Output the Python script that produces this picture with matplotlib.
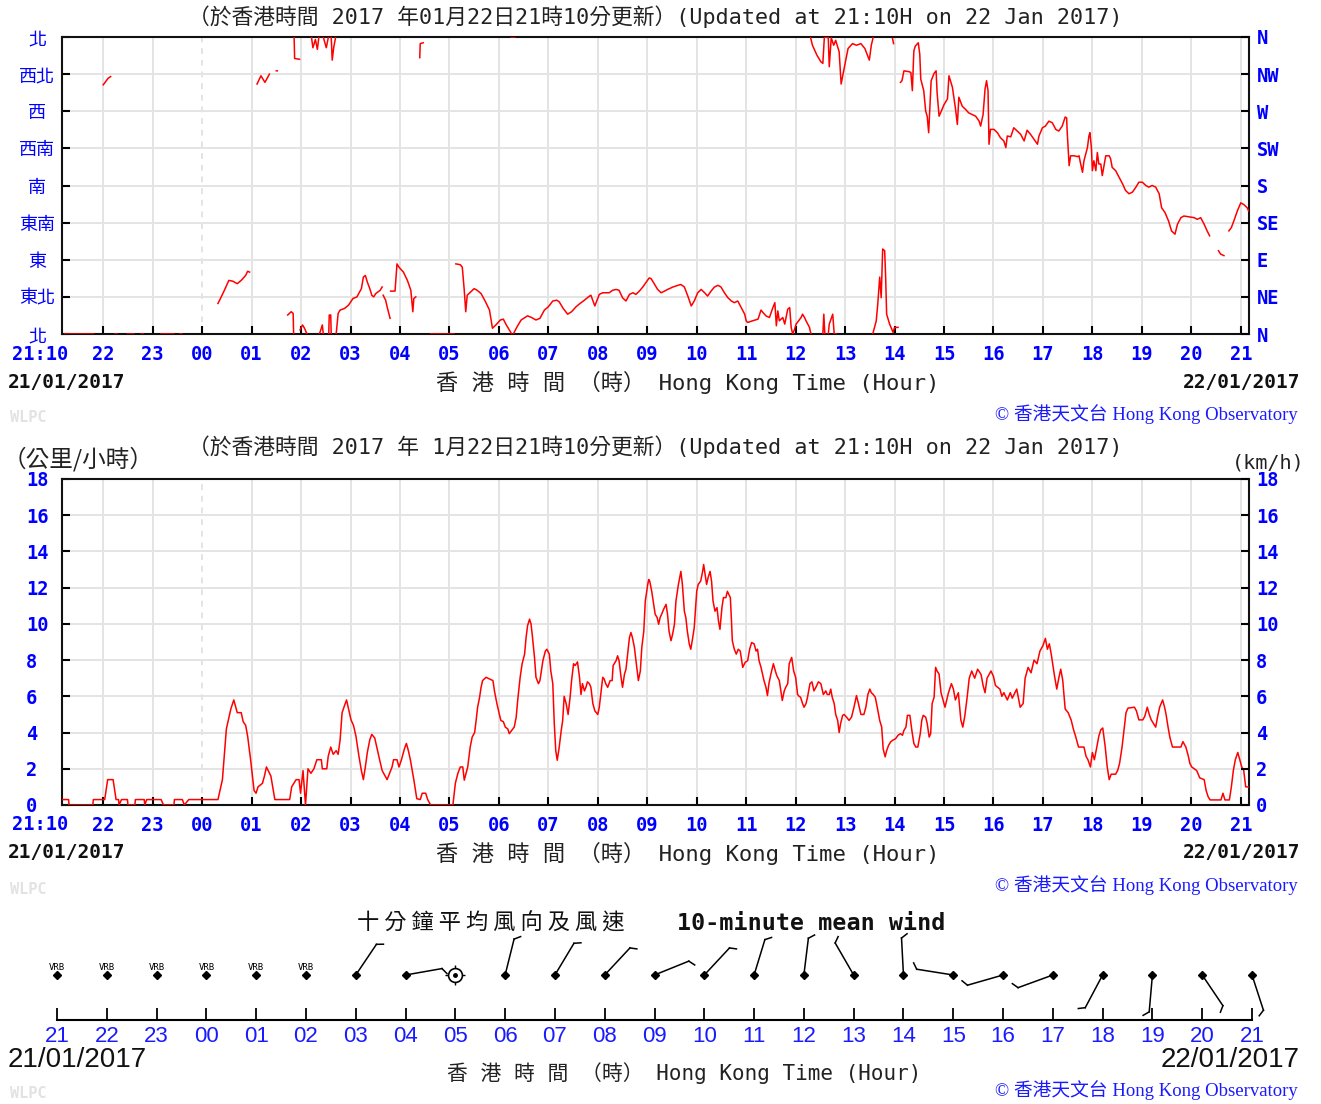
import numpy as np
import matplotlib
matplotlib.use("Agg")
import matplotlib.pyplot as plt

nan = np.nan

# ------------------------------------------------------------------ data
# time axis: hours after 21:00 on 21/01/2017 (22:00 -> 1, 00:00 -> 3, 21:00 next day -> 24)
T_START, T_END = 1 / 6, 24 + 1 / 6
hour_ticks = list(range(1, 25))
hour_labels = ["22", "23", "00", "01", "02", "03", "04", "05", "06", "07", "08", "09",
               "10", "11", "12", "13", "14", "15", "16", "17", "18", "19", "20", "21"]

dir_ticks = [0, 45, 90, 135, 180, 225, 270, 315, 360]
dir_labels_zh = ["北", "東北", "東", "東南", "南", "西南", "西", "西北", "北"]
dir_labels_en = ["N", "NE", "E", "SE", "S", "SW", "W", "NW", "N"]

speed_ticks = [0, 2, 4, 6, 8, 10, 12, 14, 16, 18]

# 1-minute wind direction (degrees), NaN = break in the trace
dir_time = [0.22, 0.81, nan, 1.00, 1.05, 1.10, 1.15, nan, 1.24, 1.28, nan, 1.49, 1.62, nan,
            1.77, 1.81, nan, 2.17, 2.43, nan, 2.55, 2.59, nan,
            3.32, 3.37, 3.45, 3.54, 3.62, 3.71, 3.79, 3.88, 3.92, 3.96, nan,
            4.11, 4.19, 4.27, 4.36, nan, 4.50, 4.52, nan,
            4.73, 4.80, 4.84, 4.85, nan, 4.86, 4.87, 4.97, nan, 4.98, 5.03, 5.07, 5.12, nan,
            5.21, 5.24, 5.29, 5.33, 5.36, nan, 5.37, 5.40, 5.43, 5.45, nan, 5.45, 5.51, 5.55, nan,
            5.56, 5.57, 5.60, 5.61, nan, 5.61, 5.63, 5.66, 5.70, nan,
            5.71, 5.75, 5.79, 5.88, 5.96, 6.05, 6.13, 6.22, 6.26, 6.30, 6.34, 6.39, 6.43, 6.47,
            6.51, 6.60, 6.64, nan, 6.66, 6.71, 6.74, 6.80, nan,
            6.81, 6.90, 6.94, 6.98, 7.07, 7.15, 7.22, 7.26, 7.28, 7.32, nan,
            7.40, 7.41, 7.47, nan, 7.62, 8.09, nan,
            8.13, 8.22, 8.26, 8.30, 8.33, 8.36, 8.43, 8.50, 8.56, 8.64, 8.73, 8.81, 8.87, 8.94,
            9.03, 9.09, 9.15, 9.21, 9.26, nan, 9.25, 9.32, nan,
            9.30, 9.37, 9.45, 9.58, 9.66, 9.75, 9.83, 9.92, 10.00, 10.09, 10.17, 10.22, 10.30,
            10.39, 10.47, 10.56, 10.64, 10.73, 10.81, 10.86, 10.94, 11.03, 11.10, 11.23, 11.30,
            11.37, 11.43, 11.50, 11.57, 11.64, 11.71, 11.77, 11.84, 11.91, 11.98, 12.04, 12.08,
            12.14, 12.21, 12.28, 12.35, 12.41, 12.52, 12.62, 12.68, 12.75, 12.82, 12.89, 12.95,
            13.02, 13.09, 13.16, 13.22, 13.29, 13.36, 13.43, 13.49, 13.56, 13.63, 13.70, 13.76,
            13.83, 13.90, 13.97, 14.00, 14.03, 14.13, 14.24, 14.30, 14.34, 14.40, 14.47, 14.54,
            14.58, 14.61, 14.64, 14.67, 14.74, 14.78, 14.84, 14.88, 14.91, 14.94, 14.98, 15.01,
            15.06, 15.11, 15.14, 15.18, 15.21, 15.28, 15.31, nan,
            15.30, 15.34, 15.43, 15.51, 15.55, 15.58, nan, 15.55, 15.57, 15.59, nan,
            15.60, 15.66, 15.68, 15.72, 15.77, 15.81, 15.88, 15.92, 15.98, 16.02, 16.06, 16.15,
            16.23, 16.32, 16.40, 16.49, 16.53, 16.57, nan,
            15.66, 15.68, 15.75, 15.78, 15.82, nan,
            16.56, 16.63, 16.66, 16.70, 16.73, 16.76, 16.80, 16.82, 16.84, 16.90, 16.97, 17.00,
            17.07, nan, 16.96, 16.98, nan,
            17.12, 17.15, 17.19, 17.29, 17.33, 17.36, 17.39, 17.42, 17.48, 17.51, 17.53, 17.59,
            17.63, 17.66, 17.69, 17.71, 17.74, 17.80, 17.84, 17.86, 17.90, 17.93, 18.00, 18.07,
            18.10, 18.17, 18.23, 18.27, 18.30, 18.37, 18.44, 18.50, 18.57, 18.64, 18.71, 18.74,
            18.79, 18.83, 18.86, 18.89, 18.91, 18.94, 19.01, 19.08, 19.14, 19.21, 19.25, 19.28,
            19.35, 19.41, 19.48, 19.55, 19.62, 19.68, 19.75, 19.82, 19.89, 19.92, 19.99, 20.05,
            20.12, 20.19, 20.26, 20.32, 20.39, 20.45, 20.48, 20.49, 20.53, 20.56, 20.63, 20.70,
            20.73, 20.76, 20.80, 20.83, 20.90, 20.93, 20.95, 20.98, 21.00, 21.03, 21.07, 21.10,
            21.13, 21.17, 21.20, 21.27, 21.34, 21.37, 21.40, 21.47, 21.54, 21.61, 21.67, 21.74,
            21.81, 21.88, 21.94, 22.01, 22.08, 22.14, 22.21, 22.28, 22.35, 22.40, 22.47, 22.54,
            22.60, 22.67, 22.72, 22.79, 22.85, 22.95, 23.06, 23.12, 23.19, 23.26, 23.32, 23.37, nan,
            23.55, 23.59, 23.66, nan,
            23.76, 23.81, 23.86, 23.93, 24.00, 24.06, 24.13, 24.16]
dir_deg = [0, 0, nan, 302, 306, 310, 312, nan, 0, 0, nan, 0, 0, nan,
           0, 0, nan, 0, 0, nan, 0, 0, nan,
           37, 43, 53, 65, 64, 61, 65, 71, 76, 75, nan,
           303, 313, 305, 315, nan, 319, 319, nan,
           23, 27, 25, 0, nan, 360, 334, 333, nan, 5, 11, 7, 0, nan,
           360, 347, 357, 345, 360, nan, 0, 5, 11, 0, nan, 360, 347, 359, nan,
           0, 23, 23, 0, nan, 360, 332, 347, 360, nan,
           0, 25, 29, 31, 35, 43, 45, 55, 69, 71, 63, 55, 47, 45,
           49, 53, 57, nan, 47, 41, 33, 19, nan,
           52, 52, 85, 81, 75, 65, 53, 27, 43, 45, nan,
           335, 352, 353, nan, 0, 0, nan,
           85, 84, 81, 53, 27, 47, 51, 55, 53, 49, 39, 29, 7, 11,
           17, 18, 11, 5, 0, nan, 360, 360, nan,
           1, 9, 17, 22, 20, 17, 19, 29, 33, 40, 41, 39, 31,
           24, 27, 33, 37, 41, 45, 47, 34, 48, 50, 50, 53,
           54, 53, 44, 40, 48, 50, 48, 52, 57, 63, 68, 67,
           61, 54, 50, 52, 54, 57, 59, 60, 57, 46, 34, 40,
           50, 54, 50, 46, 52, 57, 59, 57, 50, 44, 40, 38,
           40, 32, 24, 16, 14, 16, 18, 29, 26, 22, 20, 32,
           38, 10, 28, 16, 20, 12, 30, 32, 8, 0, 6, 12,
           16, 20, 24, 20, 16, 8, 0, nan,
           360, 350, 338, 330, 328, 359, nan, 0, 24, 0, nan,
           360, 359, 324, 359, 350, 356, 342, 303, 322, 334, 346, 352,
           350, 352, 346, 332, 350, 360, nan,
           0, 12, 24, 0, 0, nan,
           0, 16, 36, 69, 44, 103, 101, 69, 24, 12, 2, 8,
           8, nan, 358, 352, nan,
           305, 307, 319, 318, 317, 295, 343, 349, 353, 339, 309, 295,
           270, 264, 244, 270, 307, 316, 319, 293, 264, 268, 278, 285,
           313, 299, 274, 254, 287, 276, 272, 268, 266, 264, 258, 252,
           266, 297, 307, 295, 230, 248, 248, 244, 238, 234, 226, 240,
           239, 250, 246, 242, 234, 247, 242, 236, 230, 240, 250, 252,
           258, 256, 248, 246, 252, 263, 262, 246, 204, 216, 216, 215,
           216, 207, 196, 210, 226, 240, 244, 226, 198, 210, 198, 220,
           206, 206, 192, 216, 216, 212, 202, 198, 190, 182, 174, 170,
           172, 178, 184, 184, 180, 178, 180, 178, 170, 153, 147, 137,
           125, 121, 133, 141, 143, 142, 141, 139, 141, 133, 125, 119, nan,
           101, 97, 95, nan,
           125, 129, 137, 149, 159, 157, 153, 149]

# 1-minute mean wind speed (km/h)
spd_time = [0.17, 0.30, 0.31, 0.79, 0.80, 1.03, 1.09, 1.20, 1.26, 1.31, 1.32, 1.37, 1.49, 1.50,
            1.64, 1.65, 1.83, 1.84, 1.88, 2.17, 2.22, 2.43, 2.44, 2.60, 2.64, 2.73, 3.32, 3.41,
            3.49, 3.58, 3.64, 3.71, 3.79, 3.83, 3.88, 3.92, 3.98, 4.05, 4.09, 4.13, 4.22, 4.26,
            4.30, 4.39, 4.47, 4.77, 4.81, 4.90, 4.96, 4.99, 5.04, 5.09, 5.14, 5.20, 5.26, 5.32,
            5.41, 5.43, 5.52, 5.55, 5.60, 5.65, 5.71, 5.75, 5.79, 5.83, 5.88, 5.92, 5.96, 6.01,
            6.06, 6.11, 6.17, 6.22, 6.26, 6.30, 6.34, 6.39, 6.43, 6.49, 6.53, 6.58, 6.64, 6.70,
            6.74, 6.79, 6.84, 6.87, 6.94, 6.98, 7.03, 7.09, 7.13, 7.17, 7.21, 7.28, 7.34, 7.41,
            7.45, 7.52, 7.56, 7.62, 8.07, 8.12, 8.17, 8.22, 8.27, 8.30, 8.37, 8.42, 8.46, 8.51,
            8.54, 8.57, 8.61, 8.64, 8.67, 8.74, 8.88, 8.91, 8.96, 9.01, 9.04, 9.09, 9.13, 9.18,
            9.21, 9.31, 9.35, 9.38, 9.43, 9.47, 9.52, 9.55, 9.58, 9.62, 9.65, 9.68, 9.72, 9.75,
            9.80, 9.83, 9.89, 9.94, 9.97, 10.02, 10.05, 10.09, 10.12, 10.15, 10.18, 10.22, 10.26,
            10.29, 10.32, 10.36, 10.40, 10.44, 10.47, 10.51, 10.54, 10.59, 10.63, 10.66, 10.69,
            10.73, 10.76, 10.79, 10.83, 10.86, 10.90, 10.94, 11.00, 11.03, 11.06, 11.10, 11.13,
            11.16, 11.20, 11.25, 11.29, 11.31, 11.37, 11.40, 11.43, 11.47, 11.50, 11.54, 11.57,
            11.60, 11.64, 11.67, 11.70, 11.74, 11.78, 11.82, 11.86, 11.89, 11.93, 11.96, 12.01,
            12.03, 12.05, 12.09, 12.13, 12.16, 12.20, 12.23, 12.26, 12.29, 12.33, 12.38, 12.41,
            12.44, 12.48, 12.51, 12.55, 12.58, 12.63, 12.68, 12.71, 12.75, 12.78, 12.81, 12.85,
            12.88, 12.92, 12.95, 13.00, 13.03, 13.08, 13.12, 13.14, 13.17, 13.20, 13.23, 13.27,
            13.30, 13.33, 13.37, 13.41, 13.44, 13.47, 13.51, 13.54, 13.59, 13.62, 13.68, 13.70,
            13.72, 13.76, 13.80, 13.84, 13.88, 13.93, 13.98, 14.03, 14.07, 14.11, 14.16, 14.20,
            14.23, 14.26, 14.30, 14.33, 14.36, 14.40, 14.43, 14.46, 14.50, 14.55, 14.59, 14.62,
            14.67, 14.70, 14.73, 14.77, 14.80, 14.84, 14.87, 14.92, 14.96, 15.00, 15.04, 15.07,
            15.10, 15.14, 15.17, 15.21, 15.24, 15.29, 15.33, 15.37, 15.41, 15.46, 15.51, 15.56,
            15.61, 15.64, 15.68, 15.71, 15.74, 15.78, 15.81, 15.85, 15.88, 15.91, 15.95, 15.98,
            16.03, 16.08, 16.13, 16.18, 16.23, 16.27, 16.32, 16.38, 16.42, 16.46, 16.50, 16.53,
            16.57, 16.61, 16.65, 16.70, 16.74, 16.77, 16.81, 16.84, 16.88, 16.92, 16.96, 17.02,
            17.07, 17.12, 17.16, 17.19, 17.23, 17.26, 17.31, 17.35, 17.39, 17.43, 17.47, 17.52,
            17.55, 17.58, 17.63, 17.66, 17.70, 17.73, 17.76, 17.80, 17.83, 17.86, 17.90, 17.94,
            18.02, 18.09, 18.15, 18.19, 18.23, 18.29, 18.34, 18.38, 18.42, 18.47, 18.51, 18.56,
            18.62, 18.68, 18.75, 18.79, 18.83, 18.87, 18.95, 19.00, 19.04, 19.13, 19.17, 19.21,
            19.28, 19.34, 19.38, 19.47, 19.54, 19.60, 19.64, 19.70, 19.76, 19.82, 19.88, 19.94,
            20.00, 20.05, 20.09, 20.13, 20.17, 20.23, 20.28, 20.32, 20.36, 20.40, 20.45, 20.51,
            20.57, 20.62, 20.66, 20.72, 20.83, 20.87, 20.91, 20.96, 21.00, 21.04, 21.09, 21.13,
            21.17, 21.21, 21.26, 21.30, 21.34, 21.38, 21.47, 21.51, 21.55, 21.60, 21.64, 21.68,
            21.72, 21.85, 21.89, 21.94, 22.02, 22.06, 22.11, 22.15, 22.19, 22.28, 22.32, 22.36,
            22.42, 22.46, 22.49, 22.53, 22.57, 22.62, 22.79, 22.83, 22.89, 22.94, 22.97, 23.01,
            23.11, 23.17, 23.26, 23.30, 23.34, 23.38, 23.60, 23.64, 23.68, 23.77, 23.81, 23.85,
            23.89, 23.94, 23.98, 24.02, 24.06, 24.10, 24.16]
spd_kmh = [0.3, 0.3, 0, 0, 0.3, 0.3, 1.4, 1.4, 0.3, 0.3, 0, 0.3, 0.3, 0,
           0, 0.3, 0.3, 0, 0.3, 0.3, 0, 0, 0.3, 0.3, 0, 0.3, 0.3, 1.4,
           4.2, 5.3, 5.8, 5.1, 5.1, 4.6, 4.4, 3.8, 2.5, 0.8, 0.65, 1.0, 1.2, 1.6,
           2.1, 1.6, 0.3, 0.3, 1.0, 1.4, 1.4, 0.65, 1.9, 0, 2.0, 1.75, 2.0, 2.5,
           2.5, 2.0, 2.0, 2.7, 3.2, 2.8, 3.0, 2.8, 3.6, 5.1, 5.5, 5.8, 5.3, 4.7,
           4.4, 3.8, 2.7, 1.9, 1.4, 2.1, 2.9, 3.6, 3.9, 3.7, 3.2, 2.6, 1.9, 1.6,
           1.4, 1.75, 2.1, 2.5, 2.5, 2.1, 2.5, 3.1, 3.4, 3.0, 2.5, 1.4, 0.35, 0.3,
           0.65, 0.65, 0.3, 0, 0, 1.2, 1.74, 2.1, 2.1, 1.37, 2.1, 3.2, 3.75, 4.0,
           4.67, 5.4, 5.95, 6.5, 6.87, 7.05, 6.87, 6.3, 5.6, 5.0, 4.67, 4.6, 4.3, 4.2,
           3.94, 4.3, 4.85, 5.77, 7.05, 7.8, 8.33, 9.25, 9.9, 10.26, 10.0, 9.25, 8.15, 7.05,
           6.7, 6.87, 7.97, 8.5, 8.6, 8.33, 7.4, 6.7, 4.5, 3.0, 2.47, 3.2, 4.1,
           4.67, 6.0, 5.6, 5.0, 5.95, 6.87, 7.8, 7.7, 7.9, 7.05, 6.1, 6.7,
           6.3, 6.5, 6.8, 6.7, 6.5, 5.6, 5.2, 5.0, 5.4, 6.1, 7.05, 6.95,
           6.7, 6.5, 6.87, 6.87, 7.7, 7.97, 8.24, 7.97, 7.05, 6.5, 7.23, 7.5,
           8.24, 9.25, 9.52, 9.25, 8.7, 7.8, 6.87, 7.4, 8.7, 9.6, 11.26, 12.18,
           12.45, 12.36, 11.8, 11.08, 10.53, 10.35, 9.98, 10.35, 10.53, 10.8, 11.08, 10.53,
           9.6, 9.07, 9.4, 9.98, 11.26, 12.18, 12.9, 12.18, 10.7, 10.35, 9.6, 8.88,
           8.6, 9.25, 9.8, 11.8, 12.18, 12.36, 12.9, 13.28, 12.73, 12.18, 12.55, 12.9,
           12.36, 11.26, 10.7, 10.9, 10.16, 9.7, 10.9, 11.45, 11.45, 11.8, 11.45, 10.35,
           9.07, 8.6, 8.33, 8.6, 8.5, 7.6, 7.88, 7.97, 8.6, 8.97, 8.9, 8.5,
           8.6, 7.97, 7.6, 7.23, 6.87, 6.5, 6.04, 6.7, 7.23, 7.8, 7.4, 7.14,
           6.87, 6.3, 5.77, 6.3, 6.5, 6.7, 7.8, 8.15, 7.4, 7.05, 6.1, 6.0,
           5.95, 5.6, 5.4, 5.6, 5.95, 6.7, 6.8, 6.3, 6.5, 6.8, 6.7, 6.1,
           6.3, 6.1, 6.1, 6.4, 5.95, 5.6, 5.0, 4.67, 4.0, 4.5, 4.95, 5.0,
           4.85, 4.67, 4.85, 5.4, 6.04, 5.6, 5.0, 5.0, 5.4, 6.1, 6.4, 6.2,
           6.1, 5.95, 5.4, 4.67, 4.3, 3.1, 2.66, 3.0, 3.3, 3.48, 3.57, 3.66,
           3.85, 3.94, 3.85, 4.12, 4.3, 4.95, 4.95, 4.12, 3.4, 3.2, 3.2, 3.94,
           4.67, 4.95, 4.85, 4.5, 3.75, 3.94, 5.6, 5.95, 7.6, 7.4, 7.23, 6.2,
           5.4, 6.2, 6.7, 6.4, 5.8, 6.2, 4.7, 4.3, 4.9, 6.0, 7.0, 7.4,
           7.0, 7.5, 7.2, 6.6, 6.2, 7.0, 7.4, 7.1, 6.6, 6.4, 6.0, 6.2,
           5.8, 6.2, 5.9, 6.4, 5.4, 5.6, 7.0, 7.6, 7.3, 8.0, 7.8, 8.5,
           8.8, 9.2, 8.6, 8.9, 8.3, 7.2, 6.4, 7.0, 7.5, 6.9, 5.3, 5.1,
           4.7, 4.15, 3.8, 3.2, 3.2, 2.7, 2.5, 2.1, 2.9, 2.5, 3.2, 3.8,
           4.15, 4.25, 3.2, 2.1, 1.4, 1.7, 1.7, 1.9, 2.3, 3.2, 4.15, 5.1,
           5.35, 5.4, 5.2, 4.7, 4.7, 4.9, 5.4, 5.0, 4.7, 4.3, 4.9, 5.4,
           5.8, 5.4, 5.0, 4.3, 3.7, 3.2, 3.2, 3.5, 3.2, 2.7, 2.3, 2.1,
           1.9, 1.5, 1.4, 0.8, 0.46, 0.28, 0.28, 0.65, 0.28, 0.28, 1.0, 1.9,
           2.5, 2.9, 2.5, 2.1, 1.9, 1.0, 1.0]

# hourly 10-minute mean wind (direction wind blows from, degrees)
barb_labels = ["21", "22", "23", "00", "01", "02", "03", "04", "05", "06", "07", "08", "09",
               "10", "11", "12", "13", "14", "15", "16", "17", "18", "19", "20", "21"]
barb_kind = ["VRB"] * 6 + ["wind", "wind", "calm"] + ["wind"] * 16
barb_dir = [nan] * 6 + [34, 80, nan, 14, 31, 43, 68, 43, 17, 7, 330, 357, 279, 254, 250,
                        208, 185, 146, 162]

# ------------------------------------------------------------------ style
W, H = 1321, 1104
BLUE = "#0000ff"
BLUE2 = "#1a1aff"
RED = "#ff0000"
GRID = "#e4e4e4"
CJK = "Noto Sans CJK TC"
MONO = "DejaVu Sans Mono"
SANS = "Liberation Sans"
SERIF = "Liberation Serif"
PT = 72 / 100  # points per pixel

fig = plt.figure(figsize=(W / 100, H / 100), dpi=100)
fig.patch.set_facecolor("white")


def fx(px):
    return px / W


def fy(py):
    return 1 - py / H


def ftext(px, py, s, **kw):
    fig.text(fx(px), fy(py), s, **kw)


def time_panel(top, bottom):
    ax = fig.add_axes([fx(62), fy(bottom), fx(1249) - fx(62), (bottom - top) / H])
    ax.set_xlim(T_START, T_END)
    for t, lab in zip(hour_ticks, hour_labels):
        ax.axvline(t, color=GRID, lw=1.4, zorder=0.5,
                   ls=(0, (3, 3)) if lab == "00" else "-")
    ax.set_xticks(hour_ticks)
    ax.set_xticklabels(hour_labels, color=BLUE, fontweight="bold", family=MONO, fontsize=13.5)
    ax.tick_params(axis="x", direction="in", length=6, width=1.5, pad=8, top=False)
    ax.tick_params(axis="y", direction="in", length=6, width=1.5)
    ax.annotate("21:10", xy=(T_START, 0), xycoords=("data", "axes fraction"),
                xytext=(-22 * PT, -20 * PT), textcoords="offset points", ha="center",
                va="center", color=BLUE, fontweight="bold", family=MONO, fontsize=13.5)
    for sp in ax.spines.values():
        sp.set_linewidth(1.5)
        sp.set_color("#111111")
    ax.grid(axis="y", color=GRID, lw=1.4, zorder=0.5)
    ax.set_axisbelow(True)
    return ax


def panel_footer(ybase, credit_y, wl_y):
    ftext(8, ybase, "21/01/2017", ha="left", va="center", family=MONO,
          fontweight="bold", fontsize=14, color="#111111")
    ftext(1300, ybase, "22/01/2017", ha="right", va="center", family=MONO,
          fontweight="bold", fontsize=14, color="#111111")
    ftext(688, ybase, "香 港 時 間 （時） Hong Kong Time (Hour)", ha="center", va="center",
          family=[MONO, CJK], fontsize=16, color="#222222")
    ftext(10, wl_y, "WLPC", ha="left", va="center", family=MONO, fontweight="bold",
          fontsize=11, color="#e2e2e2")
    ftext(1298, credit_y, "© 香港天文台 Hong Kong Observatory", ha="right", va="center",
          family=[SERIF, CJK], fontsize=13.5, color=BLUE2)


# ------------------------------------------------------------------ top: direction
ax1 = time_panel(37, 334)
ax1.set_ylim(0, 360)
ax1.set_yticks(dir_ticks)
ax1.set_yticklabels(dir_labels_zh, color=BLUE, family=CJK, fontsize=13, ha="center")
ax1.tick_params(axis="y", pad=25 * PT)
ax1.plot(dir_time, dir_deg, color=RED, lw=1.1, zorder=3)
ax1r = ax1.twinx()
ax1r.set_ylim(0, 360)
ax1r.set_yticks(dir_ticks)
ax1r.set_yticklabels(dir_labels_en, color=BLUE, family=MONO, fontweight="bold", fontsize=13.5)
ax1r.tick_params(axis="y", direction="in", length=6, width=1.5, pad=8 * PT)
for sp in ax1r.spines.values():
    sp.set_visible(False)

ftext(655, 17, "（於香港時間 2017 年01月22日21時10分更新）(Updated at 21:10H on 22 Jan 2017)",
      ha="center", va="center", family=[MONO, CJK], fontsize=15.7, color="#222222")
panel_footer(382, 414, 418)

# ------------------------------------------------------------------ middle: speed
ax2 = time_panel(479, 805)
ax2.set_ylim(0, 18)
ax2.set_yticks(speed_ticks)
ax2.set_yticklabels([str(v) for v in speed_ticks], color=BLUE, family=MONO,
                    fontweight="bold", fontsize=13.5, ha="left")
ax2.tick_params(axis="y", pad=36 * PT)
ax2.plot(spd_time, spd_kmh, color=RED, lw=1.1, zorder=3)
ax2r = ax2.twinx()
ax2r.set_ylim(0, 18)
ax2r.set_yticks(speed_ticks)
ax2r.set_yticklabels([str(v) for v in speed_ticks], color=BLUE, family=MONO,
                     fontweight="bold", fontsize=13.5)
ax2r.tick_params(axis="y", direction="in", length=6, width=1.5, pad=7 * PT)
for sp in ax2r.spines.values():
    sp.set_visible(False)

ftext(655, 447, "（於香港時間 2017 年 1月22日21時10分更新）(Updated at 21:10H on 22 Jan 2017)",
      ha="center", va="center", family=[MONO, CJK], fontsize=15.7, color="#222222")
ftext(3, 459, "（公里/小時）", ha="left", va="center", family=[CJK], fontsize=17,
      color="#222222")
ftext(1232, 463, "(km/h)", ha="left", va="center", family=MONO, fontsize=14.5, color="#222222")
panel_footer(853, 885, 890)

# ------------------------------------------------------------------ bottom: hourly barbs
bx0, bx1, by_axis, by_top = 57, 1252, 1020, 920
ax3 = fig.add_axes([fx(bx0), fy(by_axis), fx(bx1) - fx(bx0), (by_axis - by_top) / H])
n_hours = len(barb_labels) - 1
ppu = (bx1 - bx0) / n_hours          # pixels per unit (1 hour)
ax3.set_xlim(0, n_hours)
ax3.set_ylim(0, (by_axis - by_top) / ppu)
for s in ["top", "left", "right"]:
    ax3.spines[s].set_visible(False)
ax3.spines["bottom"].set_linewidth(1.5)
ax3.set_yticks([])
ax3.set_xticks(range(len(barb_labels)))
ax3.set_xticklabels(barb_labels, family=SANS, fontsize=16, color=BLUE2)
ax3.tick_params(axis="x", direction="in", length=9, width=1.3, pad=4)
ax3.patch.set_alpha(0)

y0 = (by_axis - 975) / ppu           # station dot height
L = 37 / ppu                         # shaft length
fl = 7 / ppu                         # feather length
for i, (kind, d) in enumerate(zip(barb_kind, barb_dir)):
    if kind == "VRB":
        ax3.plot([i], [y0], marker="D", ms=4.5, color="k", zorder=4, clip_on=False)
        ax3.annotate("VRB", xy=(i, y0), xytext=(0, 8 * PT), textcoords="offset points",
                     ha="center", va="center", fontsize=6.5, family=MONO, color="k")
    elif kind == "calm":
        ax3.plot([i], [y0], marker="+", ms=15, mew=1.0, color="k", zorder=4, clip_on=False)
        ax3.plot([i], [y0], marker="o", ms=10, mfc="white", mec="k", mew=1.2, zorder=5,
                 clip_on=False)
        ax3.plot([i], [y0], marker="o", ms=2.5, color="k", zorder=6, clip_on=False)
    else:
        th = np.deg2rad(d)
        xe, ye = i + L * np.sin(th), y0 + L * np.cos(th)
        ax3.plot([i, xe], [y0, ye], color="k", lw=1.1, zorder=4, clip_on=False)
        tf = th + np.deg2rad(55)
        ax3.plot([xe, xe + fl * np.sin(tf)], [ye, ye + fl * np.cos(tf)], color="k", lw=1.1,
                 zorder=4, clip_on=False)
        ax3.plot([i], [y0], marker="D", ms=4.5, color="k", zorder=5, clip_on=False)

ftext(491, 923, "十 分 鐘 平 均 風 向 及 風 速", ha="center", va="center", family=[CJK],
      fontsize=16, color="#111111")
ftext(811, 923, "10-minute mean wind", ha="center", va="center", family=MONO,
      fontweight="bold", fontsize=16.8, color="#111111")
ftext(8, 1060, "21/01/2017", ha="left", va="center", family=SANS, fontsize=20, color="#111111")
ftext(1300, 1060, "22/01/2017", ha="right", va="center", family=SANS, fontsize=20,
      color="#111111")
ftext(684, 1073, "香 港 時 間 （時） Hong Kong Time (Hour)", ha="center", va="center",
      family=[MONO, CJK], fontsize=15, color="#222222")
ftext(10, 1093, "WLPC", ha="left", va="center", family=MONO, fontweight="bold", fontsize=11,
      color="#e2e2e2")
ftext(1298, 1090, "© 香港天文台 Hong Kong Observatory", ha="right", va="center",
      family=[SERIF, CJK], fontsize=13.5, color=BLUE2)

fig.savefig("out.png", dpi=100)
